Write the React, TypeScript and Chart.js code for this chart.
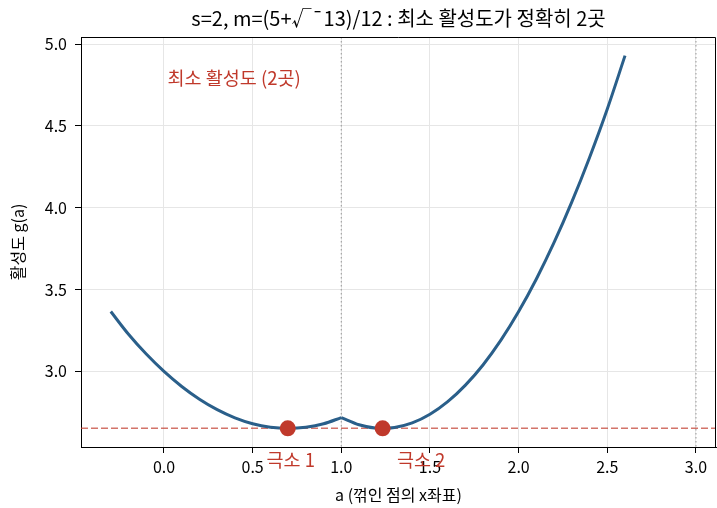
import React, { useEffect, useRef } from 'react';
import { Chart, registerables } from 'chart.js';

Chart.register(...registerables);

const FONT = '"Noto Sans CJK KR", "Noto Sans", sans-serif';

// curve g(a) (left branch up to the kink at a=1, right branch after it)
const leftA = [-0.3, -0.2, -0.1, 0.0, 0.1, 0.2, 0.3, 0.4, 0.5, 0.6, 0.7, 0.8, 0.9, 1.0];
const leftG = [3.365, 3.226, 3.105, 2.999, 2.907, 2.829, 2.765, 2.715, 2.679, 2.658, 2.651, 2.658, 2.679, 2.717];
const rightA = [1.0, 1.1, 1.2, 1.235, 1.3, 1.4, 1.5, 1.6, 1.7, 1.8, 1.9, 2.0, 2.1, 2.2, 2.3, 2.4, 2.5, 2.6];
const rightG = [2.717, 2.673, 2.652, 2.651, 2.656, 2.684, 2.737, 2.814, 2.915, 3.040, 3.190, 3.365, 3.564, 3.787, 4.035, 4.307, 4.603, 4.929];

const minimaA = [0.698, 1.233];
const minimaG = [2.651, 2.651];
const minLevel = 2.651;
const kinkLines = [1.0, 3.0];

const xTicks = [0.0, 0.5, 1.0, 1.5, 2.0, 2.5, 3.0];
const yTicks = [3.0, 3.5, 4.0, 4.5, 5.0];
const xRange = [-0.468, 3.113];
const yRange = [2.537, 5.043];

const minimaLabels = ['극소 1', '극소 2'];
const minimaLabelA = [0.715, 1.45];
const minimaLabelG = 2.457;
const noteText = '최소 활성도 (2곳)';
const noteA = 0.02;
const noteG = 4.79;

const titleText = 's=2, m=(5+\u221A\u00AF13)/12 : 최소 활성도가 정확히 2곳';
const xTitle = 'a (꺾인 점의 x좌표)';
const yTitle = '활성도 g(a)';

const RED = '#c0392b';
const BLUE = '#2a5f8a';

const overlayPlugin = {
  id: 'overlay',
  beforeDatasetsDraw(chart: any) {
    const { ctx, chartArea, scales } = chart;
    ctx.save();
    ctx.strokeStyle = 'rgba(140,140,140,0.75)';
    ctx.lineWidth = 1.2;
    ctx.setLineDash([1.5, 2.5]);
    kinkLines.forEach((v) => {
      const x = scales.x.getPixelForValue(v);
      ctx.beginPath();
      ctx.moveTo(x, chartArea.top);
      ctx.lineTo(x, chartArea.bottom);
      ctx.stroke();
    });
    ctx.restore();
  },
  afterDraw(chart: any) {
    const { ctx, chartArea, scales } = chart;
    ctx.save();
    ctx.strokeStyle = '#000';
    ctx.lineWidth = 1;
    ctx.setLineDash([]);
    ctx.beginPath();
    ctx.moveTo(chartArea.left, chartArea.top + 0.5);
    ctx.lineTo(chartArea.right - 0.5, chartArea.top + 0.5);
    ctx.lineTo(chartArea.right - 0.5, chartArea.bottom);
    ctx.stroke();

    ctx.fillStyle = RED;
    ctx.font = `18.5px ${FONT}`;
    ctx.textAlign = 'center';
    ctx.textBaseline = 'middle';
    minimaLabels.forEach((t, i) => {
      ctx.fillText(t, scales.x.getPixelForValue(minimaLabelA[i]), scales.y.getPixelForValue(minimaLabelG));
    });
    ctx.textAlign = 'left';
    ctx.fillText(noteText, scales.x.getPixelForValue(noteA), scales.y.getPixelForValue(noteG));
    ctx.restore();
  },
};

export default function App() {
  const ref = useRef<HTMLCanvasElement>(null);
  useEffect(() => {
    if (!ref.current) return;
    const branch = (xs: number[], ys: number[]) => ({
      data: xs.map((a, i) => ({ x: a, y: ys[i] })),
      borderColor: BLUE,
      borderWidth: 3,
      pointRadius: 0,
      cubicInterpolationMode: 'monotone',
      borderCapStyle: 'butt',
      borderJoinStyle: 'round',
      order: 2,
    });
    const chart = new Chart(ref.current, {
      type: 'line',
      data: {
        datasets: [
          {
            data: xRange.map((a) => ({ x: a, y: minLevel })),
            borderColor: 'rgba(192,57,43,0.7)',
            borderWidth: 1.5,
            borderDash: [7, 3],
            pointRadius: 0,
            order: 3,
          },
          branch(leftA, leftG),
          branch(rightA, rightG),
          {
            data: minimaA.map((a, i) => ({ x: a, y: minimaG[i] })),
            showLine: false,
            pointRadius: 8,
            pointBackgroundColor: RED,
            pointBorderWidth: 0,
            pointBorderColor: RED,
            order: 1,
          },
        ],
      } as any,
      options: {
        animation: false,
        responsive: false,
        maintainAspectRatio: false,
        layout: { autoPadding: false, padding: { top: 0, right: 1, bottom: 0, left: 0 } },
        plugins: {
          legend: { display: false },
          tooltip: { enabled: false },
          title: {
            display: true,
            fullSize: false,
            text: titleText,
            color: '#000',
            font: { family: FONT, size: 20, weight: 'normal' },
            padding: { top: 6.5, bottom: 6.5 },
          },
        },
        scales: {
          x: {
            type: 'linear',
            min: xRange[0],
            max: xRange[1],
            afterBuildTicks: (s: any) => {
              s.ticks = xTicks.map((v) => ({ value: v }));
            },
            afterFit: (s: any) => {
              s.height = 61;
              s.paddingLeft = 0;
              s.paddingRight = 0;
            },
            ticks: {
              color: '#000',
              font: { family: FONT, size: 16 },
              padding: 4,
              callback: (v: any) => Number(v).toFixed(1),
            },
            grid: { color: '#e6e6e6', tickColor: '#000', tickLength: 6 },
            border: { color: '#000', width: 1 },
            title: {
              display: true,
              text: xTitle,
              color: '#000',
              font: { family: FONT, size: 16 },
              padding: { top: 0, bottom: 3 },
            },
          },
          y: {
            type: 'linear',
            min: yRange[0],
            max: yRange[1],
            afterBuildTicks: (s: any) => {
              s.ticks = yTicks.map((v) => ({ value: v }));
            },
            afterFit: (s: any) => {
              s.width = 81;
              s.paddingTop = 0;
              s.paddingBottom = 0;
            },
            ticks: {
              color: '#000',
              font: { family: FONT, size: 16 },
              padding: 8,
              callback: (v: any) => Number(v).toFixed(1),
            },
            grid: { color: '#e6e6e6', tickColor: '#000', tickLength: 6 },
            border: { color: '#000', width: 1 },
            title: {
              display: true,
              text: yTitle,
              color: '#000',
              font: { family: FONT, size: 16 },
              padding: { top: 8, bottom: 0 },
            },
          },
        },
      } as any,
      plugins: [overlayPlugin],
    });
    return () => chart.destroy();
  }, []);
  return (
    <div style={{ position: 'absolute', left: 0, top: 0, width: 717, height: 508, background: '#fff' }}>
      <canvas ref={ref} width={717} height={508} style={{ display: 'block' }} />
    </div>
  );
}
